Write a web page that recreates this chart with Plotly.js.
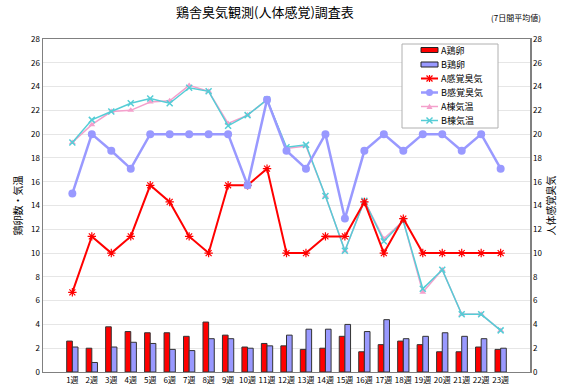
<!DOCTYPE html>
<html><head><meta charset="utf-8">
<script src="https://cdn.plot.ly/plotly-3.0.1.min.js"></script>
<style>html,body{margin:0;padding:0;background:#fff}#c{width:566px;height:388px}</style>
</head><body><div id="c"></div>
<script>
const weeks = ["1週","2週","3週","4週","5週","6週","7週","8週","9週","10週","11週","12週","13週","14週","15週","16週","17週","18週","19週","20週","21週","22週","23週"];
const eggA = [2.6,2.0,3.8,3.4,3.3,3.3,3.0,4.2,3.1,2.1,2.4,2.2,1.9,2.0,3.0,1.7,2.3,2.6,2.3,1.7,1.7,2.1,1.9];
const eggB = [2.1,0.8,2.1,2.5,2.4,1.9,1.8,2.8,2.8,2.0,2.2,3.1,3.6,3.6,4.0,3.4,4.4,2.8,3.0,3.3,3.0,2.8,2.0];
const odorA = [6.7,11.4,10.0,11.4,15.7,14.3,11.4,10.0,15.7,15.7,17.1,10.0,10.0,11.4,11.4,14.3,10.0,12.9,10.0,10.0,10.0,10.0,10.0];
const odorB = [15.0,20.0,18.6,17.1,20.0,20.0,20.0,20.0,20.0,15.7,22.9,18.6,17.1,20.0,12.9,18.6,20.0,18.6,20.0,20.0,18.6,20.0,17.1];
const tempA = [19.3,20.8,21.9,22.0,22.7,22.8,24.1,23.6,20.9,21.6,22.9,18.8,19.0,14.8,10.2,14.4,11.2,12.7,6.7,8.6,4.85,4.85,3.5];
const tempB = [19.3,21.2,21.9,22.6,23.0,22.6,23.9,23.6,20.7,21.6,22.9,18.9,19.1,14.8,10.2,14.4,11.0,12.7,7.0,8.6,4.85,4.85,3.5];
const seriesNames = ['A鶏卵','B鶏卵','A感覚臭気','B感覚臭気','A棟気温','B棟気温'];

const font = "'Noto Sans CJK JP', 'Noto Sans', sans-serif";
const RED = '#FF0000', BLUE = '#9999FF', PINK = '#F4A0CC', CYAN = '#55CDD6';
const traces = [
  {type:'bar', name:seriesNames[0], x:weeks, y:eggA, marker:{color:RED, line:{color:'#333333', width:1}}},
  {type:'bar', name:seriesNames[1], x:weeks, y:eggB, marker:{color:BLUE, line:{color:'#333333', width:1}}},
  {type:'scatter', mode:'lines+markers', name:seriesNames[2], x:weeks, y:odorA, yaxis:'y2',
   line:{color:RED, width:2}, marker:{symbol:'asterisk-open', size:7, color:RED, line:{color:RED, width:1.2}}},
  {type:'scatter', mode:'lines+markers', name:seriesNames[3], x:weeks, y:odorB, yaxis:'y2',
   line:{color:BLUE, width:2.5}, marker:{symbol:'circle', size:8, color:BLUE}},
  {type:'scatter', mode:'lines+markers', name:seriesNames[4], x:weeks, y:tempA,
   line:{color:PINK, width:1.5}, marker:{symbol:'triangle-up', size:6, color:PINK}},
  {type:'scatter', mode:'lines+markers', name:seriesNames[5], x:weeks, y:tempB,
   line:{color:CYAN, width:1.5}, marker:{symbol:'x-thin-open', size:6, color:CYAN, line:{color:CYAN, width:1.5}}}
];

// custom compact legend (decoration), positioned in plot-area pixels
const L = 43, T = 39, W = 487, H = 333;
const px = p => (p - L) / W, py = p => (T + H - p) / H;
const shapes = [], annotations = [];
shapes.push({type:'rect', xref:'paper', yref:'paper', x0:px(402), x1:px(498), y0:py(44), y1:py(128),
             line:{color:'#b0b0b0', width:1}, fillcolor:'#ffffff', layer:'above'});
const rowY = [50, 64.5, 78.5, 92.5, 106.5, 120.5];
const sx0 = 421, sx1 = 438, sxc = 429.5;
function seg(x0,y0,x1,y1,color,w){shapes.push({type:'line', xref:'paper', yref:'paper', x0:px(x0), x1:px(x1), y0:py(y0), y1:py(y1), line:{color:color, width:w}, layer:'above'});}
// bars
shapes.push({type:'rect', xref:'paper', yref:'paper', x0:px(sx0), x1:px(sx1), y0:py(rowY[0]-2.5), y1:py(rowY[0]+2.5), fillcolor:RED, line:{color:'#222', width:1}, layer:'above'});
shapes.push({type:'rect', xref:'paper', yref:'paper', x0:px(sx0), x1:px(sx1), y0:py(rowY[1]-2.5), y1:py(rowY[1]+2.5), fillcolor:BLUE, line:{color:'#222', width:1}, layer:'above'});
// A感覚臭気
seg(sx0, rowY[2], sx1, rowY[2], RED, 2);
seg(sxc-3, rowY[2]-3, sxc+3, rowY[2]+3, RED, 1.2);
seg(sxc-3, rowY[2]+3, sxc+3, rowY[2]-3, RED, 1.2);
seg(sxc, rowY[2]-3.5, sxc, rowY[2]+3.5, RED, 1.2);
// B感覚臭気
seg(sx0, rowY[3], sx1, rowY[3], BLUE, 2.5);
shapes.push({type:'circle', xref:'paper', yref:'paper', x0:px(sxc-3.5), x1:px(sxc+3.5), y0:py(rowY[3]-3.5), y1:py(rowY[3]+3.5), fillcolor:BLUE, line:{color:BLUE, width:0}, layer:'above'});
// A棟気温
seg(sx0, rowY[4], sx1, rowY[4], PINK, 1.5);
shapes.push({type:'path', xref:'paper', yref:'paper', path:`M ${px(sxc-3)} ${py(rowY[4]+2.5)} L ${px(sxc+3)} ${py(rowY[4]+2.5)} L ${px(sxc)} ${py(rowY[4]-3)} Z`, fillcolor:PINK, line:{color:PINK, width:0}, layer:'above'});
// B棟気温
seg(sx0, rowY[5], sx1, rowY[5], CYAN, 1.5);
seg(sxc-3, rowY[5]-3, sxc+3, rowY[5]+3, CYAN, 1.5);
seg(sxc-3, rowY[5]+3, sxc+3, rowY[5]-3, CYAN, 1.5);
seriesNames.forEach((n,i)=>annotations.push({text:n, xref:'paper', yref:'paper', x:px(439), y:py(rowY[i]), xanchor:'left', yanchor:'middle',
  showarrow:false, font:{family:font, size:9, color:'#000'}}));

annotations.push({text:'(7日間平均値)', xref:'paper', yref:'paper', x:1.0, y:1.065, xanchor:'center', yanchor:'middle', xshift:-14,
                  showarrow:false, font:{family:font, size:8}});

const layout = {
  width:566, height:388,
  margin:{l:L, r:566-L-W, t:T, b:388-T-H},
  paper_bgcolor:'#fff', plot_bgcolor:'#fff',
  font:{family:font, size:9, color:'#000'},
  barmode:'group', bargap:0.42, bargroupgap:0,
  showlegend:false,
  title:{text:'鶏舎臭気観測(人体感覚)調査表', font:{family:font, size:13}, x:0.468, xref:'container', y:0.969, yanchor:'middle'},
  xaxis:{type:'category', showline:true, linecolor:'#808080', linewidth:1, mirror:true, ticks:'', tickangle:0, tickfont:{size:8}, showgrid:false, automargin:false},
  yaxis:{range:[0,28], dtick:2, showline:true, linecolor:'#808080', linewidth:1.5, gridcolor:'#e6e6e6', ticks:'', tickfont:{size:8},
         zeroline:false, automargin:false, title:{text:'鶏卵数・気温', font:{family:font, size:10}, standoff:6}},
  yaxis2:{range:[0,28], dtick:2, overlaying:'y', side:'right', showline:true, linecolor:'#808080', linewidth:1.5, showgrid:false,
          ticks:'', tickfont:{size:8}, zeroline:false, automargin:false, title:{text:'人体感覚臭気', font:{family:font, size:10}, standoff:6}},
  shapes:shapes,
  annotations:annotations
};
Plotly.newPlot('c', traces, layout, {displayModeBar:false, staticPlot:true});
</script></body></html>
